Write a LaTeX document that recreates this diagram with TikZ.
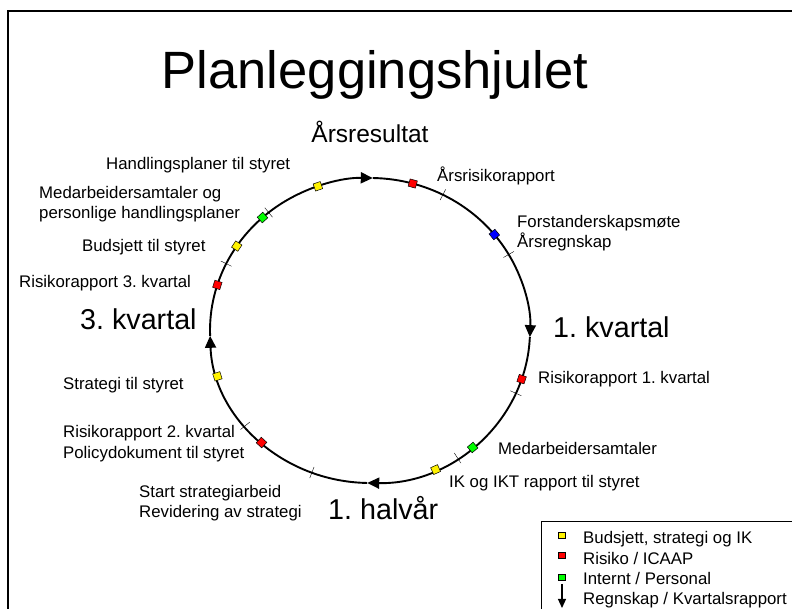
\documentclass[tikz,border=0pt]{standalone}
\usepackage{fontspec}
\setmainfont{Liberation Sans}
\usetikzlibrary{arrows.meta}
\frenchspacing

\begin{document}
\begin{tikzpicture}[x=1pt,y=1pt,
	sq/.style={draw=black,line width=0.5pt,minimum size=7.5pt,inner sep=0pt},
	wheel/.style={line width=1.9pt,-{Triangle[length=12pt,width=11pt]}},
	tick/.style={line width=0.4pt},
	lbl/.style={anchor=base west,inner sep=0pt,font=\fontsize{16.8}{20}\selectfont},
	big/.style={anchor=base west,inner sep=0pt,font=\fontsize{28.7}{34}\selectfont}]
	
	\clip (0,0) rectangle (792,609);
	\draw[line width=2pt] (8,598) rectangle (800,-10);
	
	\node[anchor=base,inner sep=0pt,font=\fontsize{52.5}{60}\selectfont] (title) at (375,520) {Planleggingshjulet};
	\node[anchor=base,inner sep=0pt,font=\fontsize{24.5}{30}\selectfont] (aar) at (370,466) {Årsresultat};
	
	\begin{scope}[shift={(370,278.5)}]
	\coordinate (top) at (89:160 and 152.5);
	\coordinate (right) at (-2.5:160 and 152.5);
	\coordinate (bottom) at (-91:160 and 152.5);
	\coordinate (left) at (182:160 and 152.5);
	\draw[wheel] (left) arc[start angle=182, end angle=89, x radius=160pt, y radius=152.5pt];
	\draw[wheel] (top) arc[start angle=89, end angle=-2.5, x radius=160pt, y radius=152.5pt];
	\draw[wheel] (right) arc[start angle=-2.5, end angle=-91, x radius=160pt, y radius=152.5pt];
	\draw[wheel] (bottom) arc[start angle=-91, end angle=-178, x radius=160pt, y radius=152.5pt];
	
	\draw[tick] (62.9:154 and 146.5) -- (62.9:166 and 158.5);
	\draw[tick] (29.9:154 and 146.5) -- (29.9:166 and 158.5);
	\draw[tick] (-24.3:154 and 146.5) -- (-24.3:166 and 158.5);
	\draw[tick] (-56.8:154 and 146.5) -- (-56.8:166 and 158.5);
	\draw[tick] (-111.3:154 and 146.5) -- (-111.3:166 and 158.5);
	\draw[tick] (-141.3:154 and 146.5) -- (-141.3:166 and 158.5);
	\draw[tick] (154:154 and 146.5) -- (154:166 and 158.5);
	\draw[tick] (129.3:154 and 146.5) -- (129.3:166 and 158.5);
	
	\node[sq,fill=yellow,rotate=109] (m1) at (109:160 and 152.5) {};
	\node[sq,fill=red,rotate=74.5] (m2) at (74.5:160 and 152.5) {};
	\node[sq,fill=blue,rotate=39] (m3) at (39:160 and 152.5) {};
	\node[sq,fill=red,rotate=-18.6] (m4) at (-18.6:160 and 152.5) {};
	\node[sq,fill=green,rotate=-50.1] (m5) at (-50.1:160 and 152.5) {};
	\node[sq,fill=yellow,rotate=-65.8] (m6) at (-65.8:160 and 152.5) {};
	\node[sq,fill=red,rotate=227.3] (m7) at (227.3:160 and 152.5) {};
	\node[sq,fill=yellow,rotate=197.5] (m8) at (197.5:160 and 152.5) {};
	\node[sq,fill=red,rotate=162.6] (m9) at (162.6:160 and 152.5) {};
	\node[sq,fill=yellow,rotate=146.4] (m10) at (146.4:160 and 152.5) {};
	\node[sq,fill=green,rotate=132.2] (m11) at (132.2:160 and 152.5) {};
	\end{scope}
	
	% quarters
	\node[big] (q1) at (553,271) {1. kvartal};
	\node[big] (h1) at (328,89) {1. halvår};
	\node[big] (q3) at (80,279) {3. kvartal};
	
	% events
	\node[lbl] (t1) at (106,439) {Handlingsplaner til styret};
	\node[lbl] (t2) at (39,410) {Medarbeidersamtaler og};
	\node[lbl] (t2b) at (39,390) {personlige handlingsplaner};
	\node[lbl] (t3) at (82,357) {Budsjett til styret};
	\node[lbl] (t4) at (19,321) {Risikorapport 3. kvartal};
	\node[lbl] (t5) at (437,427) {Årsrisikorapport};
	\node[lbl] (t6) at (517,381) {Forstanderskapsmøte};
	\node[lbl] (t6b) at (517,361) {Årsregnskap};
	\node[lbl] (t7) at (538,225) {Risikorapport 1. kvartal};
	\node[lbl] (t8) at (498,154) {Medarbeidersamtaler};
	\node[lbl] (t9) at (449,121) {IK og IKT rapport til styret};
	\node[lbl] (t10) at (139,111) {Start strategiarbeid};
	\node[lbl] (t10b) at (139,91) {Revidering av strategi};
	\node[lbl] (t11) at (63,219) {Strategi til styret};
	\node[lbl] (t12) at (63,171) {Risikorapport 2. kvartal};
	\node[lbl] (t12b) at (63,150) {Policydokument til styret};
	
	% legend
	\draw[line width=0.8pt] (541,88) rectangle (800,-10);
	\node[sq,fill=yellow,minimum width=7pt,minimum height=6pt] (ly) at (562,74) {};
	\node[sq,fill=red,minimum width=7pt,minimum height=6pt] (lr) at (562,54) {};
	\node[sq,fill=green,minimum width=7pt,minimum height=6pt] (lg) at (562,32) {};
	\coordinate (la) at (562,25);
	\coordinate (lb) at (562,1);
	\draw[line width=1.2pt,-{Triangle[length=9pt,width=8pt]}] (la) -- (lb);
	\node[lbl] (ty) at (583,65) {Budsjett, strategi og IK};
	\node[lbl] (tr) at (583,44) {Risiko / ICAAP};
	\node[lbl] (tg) at (583,24) {Internt / Personal};
	\node[lbl] (ta) at (583,4) {Regnskap / Kvartalsrapport};
	
\end{tikzpicture}
\end{document}
